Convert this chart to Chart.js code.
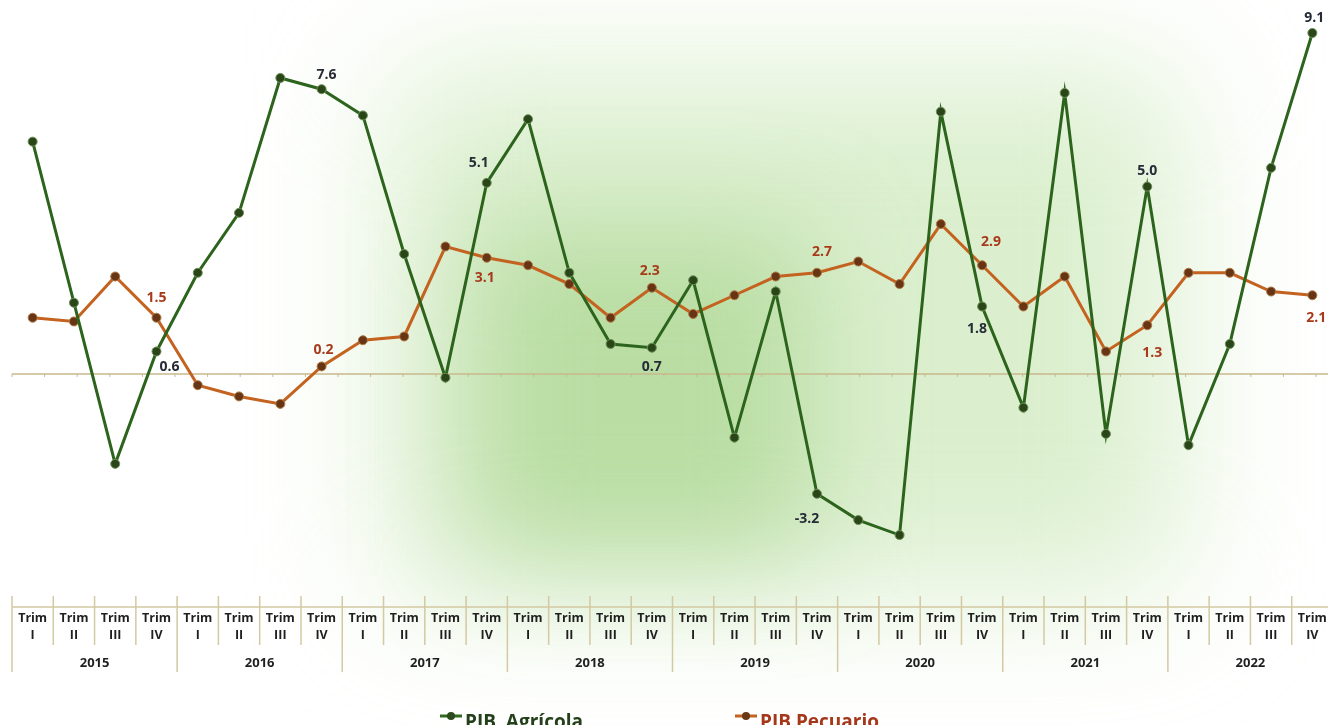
<!DOCTYPE html>
<html>
<head>
<meta charset="utf-8">
<script src="https://cdn.jsdelivr.net/npm/chart.js@4/dist/chart.umd.min.js"></script>
<style>
  html, body { margin: 0; padding: 0; overflow: hidden; background: #fff; }
  #wrap { position: absolute; left: 0; top: 0; width: 1334px; height: 740px; }
</style>
</head>
<body>
<div id="wrap"><canvas id="myChart" width="1334" height="740"></canvas></div>
<script>
// data
const years = ['2015', '2016', '2017', '2018', '2019', '2020', '2021', '2022'];
const quarters = ['I', 'II', 'III', 'IV'];
const pibAgricola = [6.2, 1.9, -2.4, 0.6, 2.7, 4.3, 7.9, 7.6, 6.9, 3.2, -0.1, 5.1, 6.8, 2.7, 0.8, 0.7,
                     2.5, -1.7, 2.2, -3.2, -3.9, -4.3, 7.0, 1.8, -0.9, 7.5, -1.6, 5.0, -1.9, 0.8, 5.5, 9.1];
const pibPecuario = [1.5, 1.4, 2.6, 1.5, -0.3, -0.6, -0.8, 0.2, 0.9, 1.0, 3.4, 3.1, 2.9, 2.4, 1.5, 2.3,
                     1.6, 2.1, 2.6, 2.7, 3.0, 2.4, 4.0, 2.9, 1.8, 2.6, 0.6, 1.3, 2.7, 2.7, 2.2, 2.1];

const labels = [];
years.forEach(y => quarters.forEach(q => labels.push(['Trim', q])));

// which points carry a value label, and where the label sits
const labelSpots = [
    { color: '#262b36', at: { 3: [13, 16], 7: [5, -14], 11: [-8, -20], 15: [0, 19], 19: [-10, 25], 23: [-5, 23], 27: [0, -16], 31: [2, -15] } },
    { color: '#a83a1c', at: { 3: [0, -20], 7: [2, -16], 11: [-2, 20], 15: [-2, -17], 19: [5, -21], 23: [9, -23], 27: [5, 28], 31: [4, 23] } }
];

const glow = {
    id: 'glow',
    beforeDraw(chart) {
        const c = chart.ctx;
        c.save();
        c.fillStyle = '#ffffff';
        c.fillRect(0, 0, chart.width, chart.height);
        c.filter = 'blur(70px)';
        c.fillStyle = 'rgba(190, 225, 165, 0.55)';
        c.fillRect(390, 70, 790, 520);
        c.filter = 'blur(55px)';
        c.fillStyle = 'rgba(145, 200, 110, 0.45)';
        c.fillRect(470, 230, 340, 330);
        c.restore();
    },
    beforeDatasetsDraw(chart) {
        const c = chart.ctx;
        const y0 = chart.scales.y.getPixelForValue(0);
        c.save();
        c.strokeStyle = '#c9b98c';
        c.lineWidth = 1.5;
        c.beginPath();
        c.moveTo(12, y0);
        c.lineTo(1334, y0);
        c.stroke();
        c.lineWidth = 1;
        for (let x = 12; x < 1334; x += 32.6) {
            c.beginPath();
            c.moveTo(x, y0);
            c.lineTo(x, y0 + 3);
            c.stroke();
        }
        c.restore();
    }
};

const decor = {
    id: 'decor',
    afterDatasetsDraw(chart) {
        const c = chart.ctx;
        const xs = chart.scales.x;
        const w = (xs.right - xs.left) / labels.length;
        c.save();
        // value labels
        c.font = 'bold 14px "Open Sans"';
        c.textAlign = 'center';
        c.textBaseline = 'middle';
        labelSpots.forEach((spot, di) => {
            const meta = chart.getDatasetMeta(di);
            const vals = chart.data.datasets[di].data;
            c.fillStyle = spot.color;
            Object.keys(spot.at).forEach(k => {
                const p = meta.data[k];
                const off = spot.at[k];
                c.fillText(vals[k].toFixed(1), p.x + off[0], p.y + off[1]);
            });
        });

        // category table
        c.strokeStyle = '#d3c9a2';
        c.lineWidth = 1.5;
        c.beginPath();
        c.moveTo(xs.left, 607);
        c.lineTo(1334, 607);
        c.stroke();
        for (let i = 0; i <= labels.length; i++) {
            const x = xs.left + w * i;
            c.beginPath();
            c.moveTo(x, 596);
            c.lineTo(x, i % 4 === 0 ? 672 : 645);
            c.stroke();
        }
        c.fillStyle = '#1f1f1f';
        c.font = 'bold 12.5px "Open Sans"';
        labels.forEach((lab, i) => {
            const x = xs.getPixelForValue(i);
            c.fillText(lab[0], x, 618);
            c.fillText(lab[1], x, 635);
        });
        c.font = 'bold 13px "Open Sans"';
        years.forEach((y, i) => {
            c.fillText(y, xs.left + w * (i * 4 + 2), 663);
        });

        // legend
        const items = [
            { x: 440, text: 'PIB  Agrícola', line: '#2f6b1e', dot: '#2c4a1c', color: '#23401a' },
            { x: 735, text: 'PIB Pecuario', line: '#c4621f', dot: '#6b3816', color: '#a5371b' }
        ];
        items.forEach(it => {
            c.strokeStyle = it.line;
            c.lineWidth = 3;
            c.beginPath();
            c.moveTo(it.x, 716);
            c.lineTo(it.x + 22, 716);
            c.stroke();
            c.fillStyle = it.dot;
            c.beginPath();
            c.arc(it.x + 11, 716, 4, 0, Math.PI * 2);
            c.fill();
            c.fillStyle = it.color;
            c.font = 'bold 19px "Open Sans"';
            c.textAlign = 'left';
            c.textBaseline = 'alphabetic';
            c.fillText(it.text, it.x + 25, 728);
        });
        c.restore();
    }
};

const ctx = document.getElementById('myChart').getContext('2d');
new Chart(ctx, {
    type: 'line',
    data: {
        labels: labels,
        datasets: [{
            label: 'PIB  Agrícola',
            data: pibAgricola,
            borderColor: '#2d641d',
            borderWidth: 3,
            pointRadius: 4.5,
            pointBackgroundColor: '#2a4619',
            pointBorderColor: '#6d8f58',
            pointBorderWidth: 1,
            tension: 0
        }, {
            label: 'PIB Pecuario',
            data: pibPecuario,
            borderColor: '#c4621f',
            borderWidth: 3,
            pointRadius: 4.5,
            pointBackgroundColor: '#673514',
            pointBorderColor: '#b07a48',
            pointBorderWidth: 1,
            tension: 0
        }]
    },
    options: {
        responsive: false,
        animation: false,
        devicePixelRatio: 1,
        layout: {
            autoPadding: false,
            padding: (c) => ({ left: 12, right: c.chart.width - 1333, top: 18, bottom: c.chart.height - 580 })
        },
        plugins: {
            legend: { display: false },
            tooltip: { enabled: false }
        },
        scales: {
            x: { display: false, offset: true },
            y: { display: false, min: -5.5, max: 9.5 }
        }
    },
    plugins: [glow, decor]
});
</script>
</body>
</html>
